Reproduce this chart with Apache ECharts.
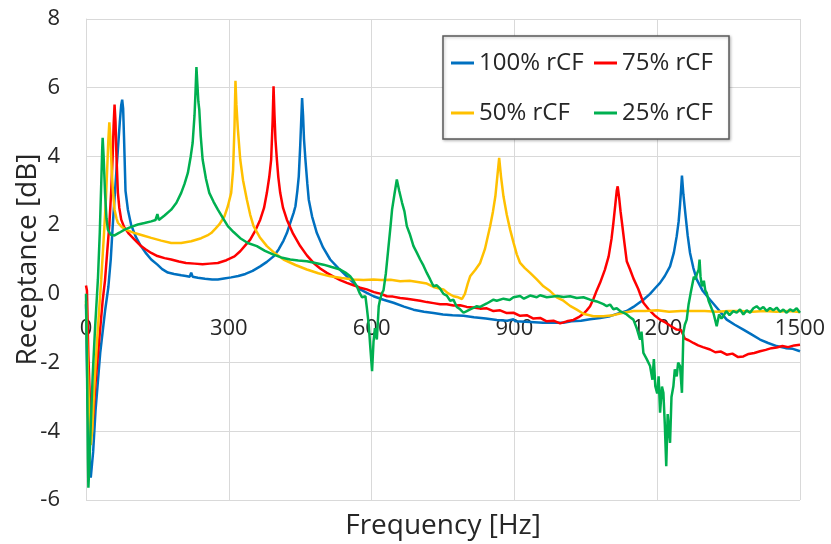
<!DOCTYPE html>
<html>
<head>
<meta charset="utf-8">
<script src="https://cdn.jsdelivr.net/npm/echarts@6/dist/echarts.min.js"></script>
<style>html,body{margin:0;padding:0;background:#fff;}#c{width:831px;height:544px;}</style>
</head>
<body>
<div id="c"></div>
<script>
const seriesNames = ['100% rCF', '75% rCF', '50% rCF', '25% rCF'];
const seriesColors = ['#0070C0', '#FF0000', '#FFC000', '#00B050'];
const xTicks = [0, 300, 600, 900, 1200, 1500];
const yTicks = [-6, -4, -2, 0, 2, 4, 6, 8];

const rcf100 = [[0,-0.3],[3,-2.8],[7,-4.8],[10,-5.35],[13,-5.3],[15,-4.6],[20,-3.4],[30,-1.7],[40,-0.5],[47,0.2],[52,1.0],[56,1.95],[61,3.0],[66,4.0],[71,5.0],[74,5.5],[76,5.65],[78,5.4],[80,4.5],[83,3.0],[88,2.45],[95,2.0],[105,1.65],[115,1.4],[125,1.2],[137,1.0],[150,0.85],[160,0.72],[172,0.62],[185,0.58],[200,0.54],[210,0.52],[218,0.5],[221,0.62],[224,0.5],[235,0.47],[250,0.44],[265,0.42],[277,0.42],[290,0.45],[305,0.48],[320,0.52],[335,0.58],[350,0.67],[366,0.8],[380,0.93],[394,1.09],[405,1.3],[415,1.55],[422,1.77],[430,2.1],[436,2.35],[440,2.55],[444,3.0],[447,3.42],[450,4.3],[452,5.0],[454,5.7],[456,5.2],[458,4.5],[461,3.9],[465,3.2],[468,2.74],[475,2.25],[485,1.77],[498,1.35],[513,1.0],[530,0.75],[548,0.51],[562,0.32],[576,0.13],[590,0.03],[604,-0.07],[625,-0.17],[646,-0.26],[668,-0.37],[688,-0.46],[710,-0.52],[730,-0.56],[750,-0.6],[770,-0.62],[793,-0.64],[815,-0.68],[840,-0.72],[863,-0.76],[885,-0.78],[898,-0.74],[902,-0.8],[933,-0.82],[960,-0.84],[985,-0.84],[1003,-0.84],[1020,-0.8],[1040,-0.78],[1059,-0.74],[1080,-0.7],[1101,-0.65],[1120,-0.56],[1136,-0.5],[1150,-0.38],[1160,-0.28],[1171,-0.17],[1185,0.0],[1196,0.17],[1206,0.32],[1216,0.52],[1227,0.8],[1235,1.2],[1241,1.68],[1245,2.1],[1248,2.6],[1250,3.0],[1252,3.44],[1255,2.9],[1259,2.36],[1264,1.7],[1269,1.19],[1276,0.75],[1283,0.42],[1295,0.1],[1311,-0.17],[1328,-0.45],[1346,-0.75],[1363,-0.9],[1381,-1.04],[1398,-1.18],[1416,-1.33],[1433,-1.43],[1451,-1.52],[1470,-1.58],[1485,-1.6],[1500,-1.67]];

const rcf75 = [[0,0.24],[2,0.1],[5,-1.8],[9,-3.4],[12,-4.0],[15,-3.6],[20,-2.6],[28,-1.3],[35,-0.2],[40,0.4],[45,1.3],[49,2.0],[53,3.0],[56,4.0],[58,4.9],[60,5.51],[62,5.0],[64,4.0],[67,2.94],[70,2.5],[74,2.16],[80,1.95],[90,1.75],[102,1.58],[115,1.4],[125,1.3],[137,1.19],[150,1.1],[165,1.04],[179,1.0],[195,0.94],[210,0.9],[228,0.88],[245,0.86],[260,0.88],[277,0.9],[295,0.98],[312,1.09],[324,1.24],[335,1.42],[345,1.58],[356,1.85],[366,2.16],[374,2.5],[380,2.94],[385,3.4],[389,3.91],[392,5.0],[394,6.04],[396,5.2],[398,4.5],[401,3.91],[404,3.4],[408,2.94],[414,2.5],[422,2.16],[435,1.75],[450,1.39],[464,1.12],[478,0.9],[492,0.74],[506,0.61],[520,0.5],[534,0.4],[548,0.32],[562,0.25],[576,0.18],[590,0.13],[605,0.05],[620,0.0],[632,-0.07],[645,-0.08],[660,-0.12],[674,-0.14],[688,-0.17],[702,-0.2],[716,-0.24],[730,-0.27],[744,-0.3],[758,-0.3],[772,-0.34],[786,-0.33],[800,-0.38],[814,-0.4],[828,-0.43],[842,-0.42],[856,-0.5],[870,-0.48],[884,-0.56],[898,-0.55],[912,-0.64],[926,-0.62],[940,-0.72],[954,-0.7],[968,-0.8],[982,-0.78],[996,-0.86],[1010,-0.8],[1024,-0.76],[1035,-0.68],[1045,-0.58],[1052,-0.48],[1059,-0.36],[1066,-0.15],[1073,0.1],[1080,0.32],[1090,0.7],[1098,1.09],[1104,1.6],[1108,2.07],[1112,2.6],[1115,3.0],[1117,3.13],[1120,2.8],[1123,2.4],[1126,2.07],[1131,1.5],[1136,0.95],[1143,0.71],[1150,0.45],[1160,0.15],[1171,-0.26],[1182,-0.45],[1194,-0.62],[1206,-0.75],[1218,-0.84],[1230,-0.95],[1241,-1.04],[1250,-1.05],[1258,-1.3],[1266,-1.35],[1276,-1.43],[1286,-1.5],[1296,-1.55],[1311,-1.62],[1322,-1.7],[1334,-1.68],[1346,-1.77],[1358,-1.74],[1370,-1.84],[1381,-1.82],[1392,-1.75],[1404,-1.72],[1416,-1.67],[1428,-1.63],[1440,-1.58],[1451,-1.56],[1463,-1.52],[1475,-1.55],[1488,-1.5],[1500,-1.48]];

const rcf50 = [[0,-0.2],[3,-1.8],[7,-3.6],[10,-4.4],[13,-4.0],[17,-2.8],[24,-1.2],[32,0.42],[38,1.8],[42,2.8],[45,3.8],[47,4.5],[49,4.99],[51,4.6],[54,3.6],[57,2.9],[60,2.45],[64,2.2],[67,2.07],[75,1.95],[85,1.86],[102,1.77],[120,1.7],[137,1.63],[158,1.55],[179,1.48],[200,1.48],[221,1.53],[242,1.62],[255,1.7],[263,1.77],[272,1.9],[280,2.02],[291,2.26],[298,2.55],[305,2.94],[309,3.6],[312,4.88],[314,6.2],[316,5.5],[319,4.8],[324,3.91],[330,3.3],[338,2.74],[345,2.3],[352,1.97],[365,1.65],[380,1.39],[397,1.18],[415,1.0],[440,0.84],[464,0.71],[488,0.6],[513,0.51],[537,0.46],[562,0.42],[583,0.4],[604,0.42],[620,0.4],[640,0.41],[660,0.37],[680,0.38],[700,0.34],[716,0.3],[730,0.2],[744,0.15],[751,0.13],[760,0.02],[772,-0.07],[782,-0.1],[790,-0.15],[796,0.0],[802,0.3],[807,0.51],[818,0.7],[828,0.9],[838,1.3],[849,1.97],[855,2.4],[860,2.84],[864,3.4],[868,3.96],[872,3.4],[877,2.84],[884,2.3],[891,1.87],[898,1.5],[905,1.15],[912,0.9],[922,0.75],[933,0.61],[947,0.42],[961,0.22],[975,0.08],[989,-0.1],[1003,-0.2],[1017,-0.35],[1031,-0.46],[1045,-0.58],[1066,-0.65],[1087,-0.65],[1108,-0.62],[1129,-0.55],[1150,-0.5],[1175,-0.5],[1200,-0.48],[1225,-0.52],[1250,-0.5],[1275,-0.5],[1300,-0.5],[1325,-0.52],[1350,-0.5],[1375,-0.5],[1400,-0.52],[1425,-0.5],[1450,-0.52],[1475,-0.5],[1500,-0.53]];

const rcf25 = [[0,0.0],[2,-2.0],[4,-4.8],[5,-5.64],[7,-5.0],[10,-3.8],[14,-2.4],[19,-1.0],[25,0.42],[29,1.8],[32,3.2],[34,4.2],[35,4.54],[37,4.0],[40,2.94],[43,2.2],[46,1.87],[52,1.72],[60,1.7],[70,1.78],[81,1.87],[95,1.95],[109,2.02],[123,2.06],[137,2.11],[146,2.15],[150,2.32],[153,2.15],[165,2.28],[179,2.45],[190,2.65],[200,2.94],[207,3.2],[214,3.52],[220,4.0],[224,4.39],[228,5.2],[230,5.85],[232,6.6],[234,6.1],[236,5.6],[238,5.36],[241,4.6],[245,3.91],[252,3.35],[259,2.94],[268,2.68],[277,2.45],[288,2.2],[298,1.97],[310,1.8],[324,1.62],[340,1.48],[359,1.39],[376,1.25],[394,1.14],[410,1.06],[429,1.0],[446,0.97],[464,0.95],[482,0.9],[499,0.85],[516,0.78],[534,0.71],[545,0.62],[555,0.51],[562,0.38],[569,0.22],[575,0.02],[580,-0.1],[587,-0.07],[590,-0.4],[594,-0.9],[597,-1.5],[601,-2.25],[604,-1.4],[607,-1.0],[611,-1.33],[615,-0.36],[618,-0.15],[622,0.03],[625,0.1],[630,0.6],[635,1.3],[640,2.0],[643,2.45],[648,2.9],[653,3.33],[658,3.0],[664,2.65],[669,2.4],[674,1.97],[680,1.75],[688,1.39],[695,1.2],[702,1.0],[709,0.82],[716,0.61],[723,0.42],[730,0.22],[737,0.25],[744,0.15],[751,0.0],[758,-0.05],[765,-0.2],[772,-0.17],[779,-0.38],[786,-0.45],[793,-0.55],[800,-0.5],[807,-0.45],[814,-0.41],[821,-0.36],[828,-0.38],[842,-0.28],[856,-0.17],[863,-0.2],[877,-0.14],[890,-0.18],[898,-0.1],[912,-0.06],[920,-0.14],[933,-0.05],[947,-0.1],[954,-0.04],[968,-0.1],[990,-0.06],[1003,-0.09],[1017,-0.07],[1031,-0.12],[1045,-0.1],[1059,-0.17],[1073,-0.22],[1087,-0.3],[1094,-0.36],[1101,-0.31],[1108,-0.45],[1115,-0.42],[1122,-0.5],[1129,-0.55],[1136,-0.6],[1143,-0.68],[1150,-0.75],[1157,-1.0],[1164,-1.33],[1167,-1.1],[1171,-1.72],[1178,-1.9],[1185,-2.1],[1190,-2.5],[1193,-1.9],[1196,-2.69],[1200,-2.9],[1203,-2.4],[1206,-3.46],[1210,-2.7],[1213,-2.88],[1216,-3.8],[1219,-5.02],[1222,-3.5],[1224,-3.85],[1227,-4.34],[1230,-3.0],[1234,-2.69],[1237,-2.2],[1241,-2.4],[1244,-2.0],[1248,-2.1],[1252,-2.88],[1255,-1.13],[1258,-0.9],[1262,-0.75],[1266,-0.3],[1270,0.0],[1273,0.03],[1277,0.5],[1280,0.42],[1284,0.6],[1287,0.7],[1289,1.0],[1291,0.5],[1294,0.22],[1298,0.38],[1301,0.1],[1304,0.03],[1308,-0.2],[1311,-0.15],[1315,-0.45],[1318,-0.55],[1322,-0.5],[1325,-0.94],[1330,-0.6],[1335,-0.72],[1339,-0.65],[1345,-0.5],[1352,-0.62],[1360,-0.5],[1367,-0.55],[1374,-0.45],[1381,-0.6],[1388,-0.48],[1395,-0.55],[1402,-0.42],[1409,-0.36],[1416,-0.45],[1423,-0.38],[1430,-0.5],[1437,-0.41],[1444,-0.48],[1451,-0.4],[1458,-0.52],[1465,-0.46],[1472,-0.55],[1479,-0.45],[1486,-0.5],[1493,-0.42],[1500,-0.55]];

const seriesData = [rcf100, rcf75, rcf50, rcf25];

const FONT = 'Open Sans';
const TXT = '#262626';
const GRIDC = '#d9d9d9';

const chart = echarts.init(document.getElementById('c'), null, {renderer: 'canvas'});
const legendCommon = {
  orient: 'vertical',
  icon: 'rect',
  itemWidth: 23,
  itemHeight: 3,
  itemGap: 26,
  padding: 0,
  selectedMode: false,
  textStyle: {fontFamily: FONT, fontSize: 24, color: TXT, lineHeight: 24}
};
chart.setOption({
  animation: false,
  backgroundColor: '#fff',
  grid: {left: 86, right: 31, top: 19, bottom: 44, containLabel: false, outerBoundsMode: 'none'},
  xAxis: {
    type: 'value', min: xTicks[0], max: xTicks[xTicks.length - 1], interval: 300,
    position: 'bottom', offset: 0,
    name: 'Frequency [Hz]', nameLocation: 'middle', nameGap: 218, nameMoveOverlap: false,
    nameTextStyle: {fontFamily: FONT, fontSize: 28, color: TXT},
    axisLine: {onZero: false, lineStyle: {color: GRIDC, width: 1}},
    axisTick: {show: false},
    axisLabel: {fontFamily: FONT, fontSize: 22, color: TXT, margin: 24, formatter: v => String(v)},
    splitLine: {show: true, lineStyle: {color: GRIDC, width: 1}}
  },
  yAxis: {
    type: 'value', min: yTicks[0], max: yTicks[yTicks.length - 1], interval: 2,
    name: 'Receptance [dB]', nameLocation: 'middle', nameGap: 44, nameRotate: 90, nameMoveOverlap: false,
    nameTextStyle: {fontFamily: FONT, fontSize: 28, color: TXT},
    axisLine: {show: true, onZero: false, lineStyle: {color: GRIDC, width: 1}},
    axisTick: {show: false},
    axisLabel: {fontFamily: FONT, fontSize: 22, color: TXT, margin: 26, formatter: v => String(v)},
    splitLine: {show: true, lineStyle: {color: GRIDC, width: 1}}
  },
  graphic: [{
    type: 'rect', z: 3,
    shape: {x: 443, y: 36, width: 286, height: 103},
    style: {fill: '#fff', stroke: '#595959', lineWidth: 1.5, shadowBlur: 3, shadowColor: 'rgba(0,0,0,0.25)', shadowOffsetX: 1, shadowOffsetY: 1}
  }],
  legend: [
    Object.assign({}, legendCommon, {data: [seriesNames[0], seriesNames[2]], left: 451, top: 51}),
    Object.assign({}, legendCommon, {data: [seriesNames[1], seriesNames[3]], left: 594, top: 51})
  ],
  series: seriesNames.map((n, i) => ({
    name: n, type: 'line', data: seriesData[i], showSymbol: false, symbol: 'none',
    lineStyle: {color: seriesColors[i], width: 2.5}, itemStyle: {color: seriesColors[i]},
    z: 2 + i
  }))
});
// place the x axis (line + labels) on the y = 0 level, using the y scale itself
const yZeroPx = chart.convertToPixel({yAxisIndex: 0}, 0);
const yMinPx = chart.convertToPixel({yAxisIndex: 0}, yTicks[0]);
const lift = yMinPx - yZeroPx;
chart.setOption({xAxis: {offset: -lift}});
</script>
</body>
</html>
